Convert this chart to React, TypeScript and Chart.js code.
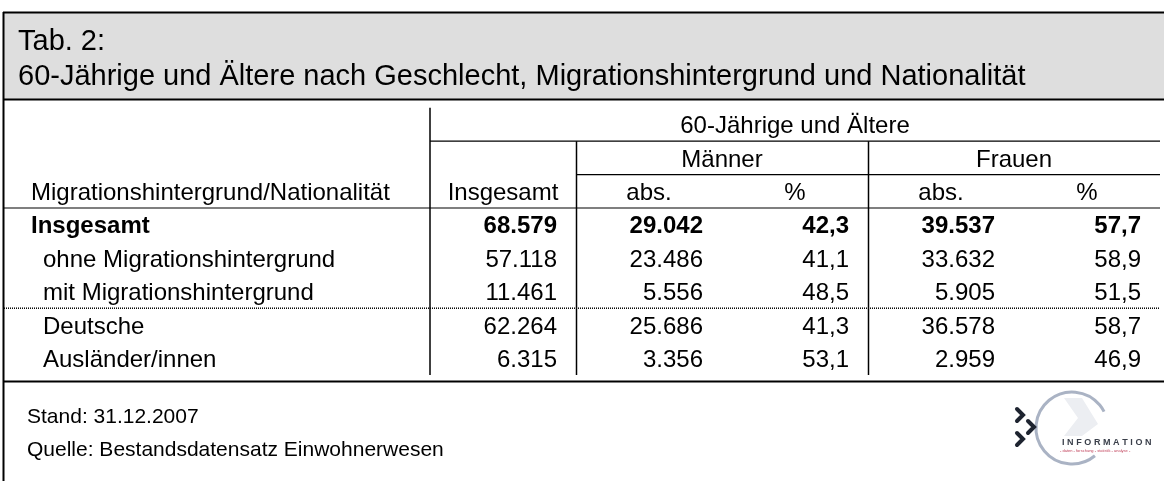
import React, { useEffect, useRef } from 'react';
import { Chart, registerables } from 'chart.js';

Chart.register(...registerables);

// ---- data ----
const titleLines = ['Tab. 2:', '60-Jährige und Ältere nach Geschlecht, Migrationshintergrund und Nationalität'];
const superHeader = '60-Jährige und Ältere';
const stubHeader = 'Migrationshintergrund/Nationalität';
const groupLabels = ['Männer', 'Frauen'];
const columnKeys = ['Insgesamt', 'Männer abs.', 'Männer %', 'Frauen abs.', 'Frauen %'];
const columnHeaders = ['Insgesamt', 'abs.', '%', 'abs.', '%'];
const rowLabels = ['Insgesamt', 'ohne Migrationshintergrund', 'mit Migrationshintergrund', 'Deutsche', 'Ausländer/innen'];
const rowIndent = [0, 1, 1, 1, 1];
const insgesamt = [68579, 57118, 11461, 62264, 6315];
const maennerAbs = [29042, 23486, 5556, 25686, 3356];
const maennerPct = [42.3, 41.1, 48.5, 41.3, 53.1];
const frauenAbs = [39537, 33632, 5905, 36578, 2959];
const frauenPct = [57.7, 58.9, 51.5, 58.7, 46.9];
const footnotes = ['Stand: 31.12.2007', 'Quelle: Bestandsdatensatz Einwohnerwesen'];
const logoWord = 'INFORMATION';
const logoTagline = '- daten - forschung - statistik - analyse -';

const seriesValues = [insgesamt, maennerAbs, maennerPct, frauenAbs, frauenPct];
const seriesKinds = ['abs', 'abs', 'pct', 'abs', 'pct'];

const fmtAbs = (n: number) => String(n).replace(/\B(?=(\d{3})+(?!\d))/g, '.');
const fmtPct = (n: number) => n.toFixed(1).replace('.', ',');

const FONT = '"Liberation Sans", Arial, Helvetica, sans-serif';

function drawText(ctx: CanvasRenderingContext2D, s: string, x: number, yc: number, size: number, align: CanvasTextAlign, bold = false, color = '#000') {
  ctx.font = `${bold ? 'bold ' : ''}${size}px ${FONT}`;
  ctx.textAlign = align;
  ctx.textBaseline = 'alphabetic';
  ctx.fillStyle = color;
  ctx.fillText(s, x, yc + size * 0.36);
}

function line(ctx: CanvasRenderingContext2D, x1: number, y1: number, x2: number, y2: number, w = 1, dash: number[] = []) {
  ctx.save();
  ctx.beginPath();
  ctx.setLineDash(dash);
  ctx.lineWidth = w;
  ctx.strokeStyle = '#000';
  ctx.moveTo(x1, y1);
  ctx.lineTo(x2, y2);
  ctx.stroke();
  ctx.restore();
}

function drawLogo(ctx: CanvasRenderingContext2D, cx: number, cy: number) {
  ctx.save();
  // ring
  ctx.beginPath();
  ctx.lineWidth = 3;
  ctx.strokeStyle = '#aab3c4';
  ctx.arc(cx, cy, 36, Math.PI * 0.28, Math.PI * 1.85);
  ctx.stroke();
  // inner light shape
  ctx.beginPath();
  ctx.fillStyle = '#eceef2';
  ctx.moveTo(cx - 8, cy - 30);
  ctx.lineTo(cx + 10, cy - 30);
  ctx.lineTo(cx + 26, cy - 4);
  ctx.lineTo(cx + 10, cy + 8);
  ctx.lineTo(cx - 8, cy + 8);
  ctx.lineTo(cx + 6, cy - 10);
  ctx.closePath();
  ctx.fill();
  // chevrons
  ctx.strokeStyle = '#1e2430';
  ctx.lineWidth = 4;
  ctx.lineCap = 'round';
  const chev = (x: number, y: number) => {
    ctx.beginPath();
    ctx.moveTo(x, y - 6);
    ctx.lineTo(x + 6, y);
    ctx.lineTo(x, y + 6);
    ctx.stroke();
  };
  chev(cx - 55, cy - 13);
  chev(cx - 44, cy - 1);
  chev(cx - 55, cy + 11);
  ctx.restore();
  ctx.save();
  ctx.font = `bold 9px ${FONT}`;
  ctx.fillStyle = '#3a3f4a';
  ctx.textAlign = 'left';
  ctx.textBaseline = 'alphabetic';
  let x = cx - 10;
  for (const ch of logoWord) {
    ctx.fillText(ch, x, cy + 17);
    x += ctx.measureText(ch).width + 2.6;
  }
  ctx.font = `4px ${FONT}`;
  ctx.fillStyle = '#c0405a';
  ctx.fillText(logoTagline, cx - 12, cy + 24);
  ctx.restore();
}

const tablePlugin = {
  id: 'tableDraw',
  afterDraw(chart: any) {
    const ctx: CanvasRenderingContext2D = chart.ctx;
    const xs = chart.scales.x;
    const ys = chart.scales.y;
    const area = chart.chartArea;
    const W = chart.width;
    const nC = columnKeys.length;
    const nR = rowLabels.length;
    const colW = xs.width / nC;
    const rowH = ys.height / nR;
    const colLeft = (i: number) => xs.getPixelForValue(i) - colW / 2;
    const rowTop = (i: number) => ys.getPixelForValue(i) - rowH / 2;

    ctx.save();
    // header band
    ctx.fillStyle = '#dedede';
    ctx.fillRect(4, 13, W - 4, 86);
    // frame
    line(ctx, 3, 12.5, W, 12.5, 2);
    line(ctx, 3.5, 12, 3.5, chart.height, 2);
    line(ctx, 3, 99.5, W, 99.5, 2);
    line(ctx, 3, 381.5, W, 381.5, 2);

    // title
    drawText(ctx, titleLines[0], 18, 39.5, 29, 'left');
    drawText(ctx, titleLines[1], 18, 74.5, 29, 'left');

    const hTop3 = area.top - 3 * rowH; // super header row top
    const hTop2 = area.top - 2 * rowH; // group row top
    const hTop1 = area.top - rowH; // column header row top

    // vertical lines
    line(ctx, area.left, hTop3, area.left, area.bottom, 1.5);
    for (const gi of [1, 3]) {
      const x = Math.round(colLeft(gi)) + 0.5;
      line(ctx, x, hTop2, x, area.bottom, 1.5);
    }
    // horizontal lines
    line(ctx, area.left, hTop2, area.right, hTop2, 1.2);
    line(ctx, colLeft(1), hTop1, area.right, hTop1, 1.2);
    line(ctx, 4, area.top, area.right, area.top, 1.2);
    line(ctx, 4, rowTop(3), area.right, rowTop(3), 1.5, [1, 1]);

    // headers
    drawText(ctx, superHeader, (area.left + area.right) / 2, hTop3 + rowH / 2, 24, 'center');
    groupLabels.forEach((g, k) => {
      const l = colLeft(1 + 2 * k);
      drawText(ctx, g, l + colW, hTop2 + rowH / 2, 24, 'center');
    });
    columnHeaders.forEach((h, i) => {
      drawText(ctx, h, xs.getPixelForValue(i), hTop1 + rowH / 2, 24, 'center');
    });
    drawText(ctx, stubHeader, 31, hTop1 + rowH / 2, 24, 'left');

    // row labels
    rowLabels.forEach((r, i) => {
      drawText(ctx, r, rowIndent[i] ? 43 : 31, ys.getPixelForValue(i), 24, 'left', i === 0);
    });

    // cell values from dataset elements
    chart.data.datasets.forEach((ds: any, di: number) => {
      const meta = chart.getDatasetMeta(di);
      meta.data.forEach((el: any, i: number) => {
        const raw = ds.data[i];
        const s = ds.kind === 'pct' ? fmtPct(raw.v) : fmtAbs(raw.v);
        drawText(ctx, s, el.x + colW / 2 - 19, el.y, 24, 'right', i === 0);
      });
    });

    // footnotes
    drawText(ctx, footnotes[0], 27, 415, 21, 'left');
    drawText(ctx, footnotes[1], 27, 448, 21, 'left');

    drawLogo(ctx, 1072, 428);
    ctx.restore();
  },
};

export default function App() {
  const ref = useRef<HTMLCanvasElement>(null);
  useEffect(() => {
    if (!ref.current) return;
    const chart = new Chart(ref.current, {
      type: 'scatter',
      data: {
        datasets: seriesValues.map((vals, ci) => ({
          label: columnKeys[ci],
          kind: seriesKinds[ci],
          data: vals.map((v, ri) => ({ x: columnKeys[ci], y: rowLabels[ri], v })),
          pointRadius: 0,
          pointHoverRadius: 0,
          showLine: false,
        })) as any,
      },
      options: {
        animation: false,
        responsive: false,
        devicePixelRatio: 1,
        events: [],
        layout: { padding: { left: 430, right: 4, top: 208, bottom: 106 } },
        scales: {
          x: { type: 'category', labels: columnKeys, offset: true, display: false },
          y: { type: 'category', labels: rowLabels, offset: true, display: false },
        },
        plugins: {
          legend: { display: false },
          tooltip: { enabled: false },
          title: { display: false },
        },
      } as any,
      plugins: [tablePlugin],
    });
    return () => chart.destroy();
  }, []);
  return (
    <div style={{ position: 'absolute', left: 0, top: 0, width: 1164, height: 481, background: '#fff' }}>
      <canvas ref={ref} width={1164} height={481} style={{ display: 'block' }} />
    </div>
  );
}
